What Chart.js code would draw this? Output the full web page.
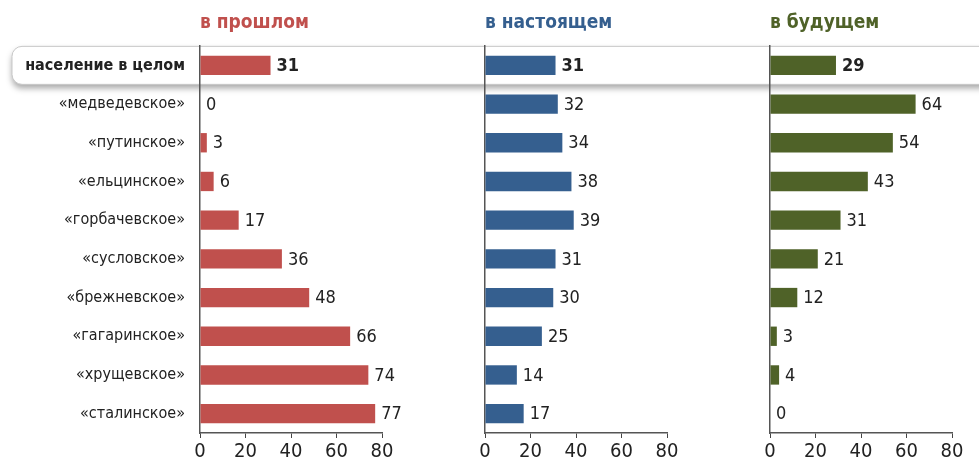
<!DOCTYPE html>
<html>
<head>
<meta charset="utf-8">
<script src="https://cdn.jsdelivr.net/npm/chart.js@4/dist/chart.umd.min.js"></script>
<style>
  body { margin: 0; background: #fff; }
  #wrap { position: relative; width: 979px; height: 463px; }
  #wrap canvas { position: absolute; left: 0; top: 0; }
</style>
</head>
<body>
<div id="wrap">
  <canvas id="past" width="979" height="463"></canvas>
  <canvas id="present" width="979" height="463"></canvas>
  <canvas id="future" width="979" height="463"></canvas>
</div>
<script>
const categories = ['население в целом', '«медведевское»', '«путинское»', '«ельцинское»', '«горбачевское»',
  '«сусловское»', '«брежневское»', '«гагаринское»', '«хрущевское»', '«сталинское»'];
const pastValues = [31, 0, 3, 6, 17, 36, 48, 66, 74, 77];
const presentValues = [31, 32, 34, 38, 39, 31, 30, 25, 14, 17];
const futureValues = [29, 64, 54, 43, 31, 21, 12, 3, 4, 0];
const xTicks = [0, 20, 40, 60, 80];

const FONT = '"DejaVu Sans Condensed", "Roboto", sans-serif';
const TXT = '#222';

// value labels + panel title
const labelsPlugin = {
  id: 'labels',
  afterDatasetsDraw(chart, args, opts) {
    const ctx = chart.ctx;
    const meta = chart.getDatasetMeta(0);
    ctx.save();
    ctx.fillStyle = TXT;
    ctx.textBaseline = 'middle';
    ctx.textAlign = 'left';
    meta.data.forEach((bar, i) => {
      ctx.font = (i === 0 ? 'bold ' : '') + '18px ' + FONT;
      ctx.fillText(chart.data.datasets[0].data[i], bar.x + 6, bar.y + 1);
    });
    ctx.font = 'bold 19px ' + FONT;
    ctx.fillStyle = opts.color;
    ctx.textBaseline = 'alphabetic';
    ctx.fillText(opts.title, chart.chartArea.left, 28);
    ctx.restore();
  }
};

// rounded highlight box behind the first row
const highlightPlugin = {
  id: 'highlight',
  beforeDraw(chart) {
    const y = chart.scales.y.getPixelForValue(0);
    const ctx = chart.ctx;
    const top = y - 19, h = 38, x = 12, w = 1000, r = 10;
    ctx.save();
    ctx.shadowColor = 'rgba(0,0,0,0.35)';
    ctx.shadowBlur = 6;
    ctx.shadowOffsetY = 4;
    ctx.fillStyle = '#fff';
    ctx.beginPath();
    ctx.roundRect(x, top, w, h, r);
    ctx.fill();
    ctx.shadowColor = 'transparent';
    ctx.strokeStyle = '#c8c8c8';
    ctx.lineWidth = 1;
    ctx.stroke();
    ctx.restore();
  }
};

function makeChart(id, values, color, title, left, showLabels) {
  const plugins = [labelsPlugin];
  if (showLabels) plugins.unshift(highlightPlugin);
  return new Chart(document.getElementById(id), {
    type: 'bar',
    data: {
      labels: categories,
      datasets: [{
        data: values,
        backgroundColor: color,
        categoryPercentage: 1,
        barPercentage: 0.5
      }]
    },
    options: {
      indexAxis: 'y',
      responsive: false,
      animation: false,
      layout: { padding: { left: showLabels ? 0 : left, right: 979 - left - 182, top: 46, bottom: 0 } },
      plugins: {
        legend: { display: false },
        tooltip: { enabled: false },
        labels: { title: title, color: color }
      },
      scales: {
        x: {
          min: 0,
          max: 80,
          afterBuildTicks: s => { s.ticks = xTicks.map(v => ({ value: v })); },
          afterFit: s => { s.height = 30; },
          grid: { drawOnChartArea: false, drawTicks: true, tickLength: 5, color: '#444' },
          border: { display: true, color: '#555', width: 1.5 },
          ticks: { color: TXT, padding: 2, font: { family: FONT, size: 20 } }
        },
        y: {
          afterFit: s => { s.width = showLabels ? left : 0; },
          grid: { display: false },
          border: { display: true, color: '#555', width: 1.5 },
          ticks: {
            display: showLabels,
            color: TXT,
            padding: 7,
            font: ctx => ({ family: FONT, size: 16, weight: ctx.index === 0 ? 'bold' : 'normal' })
          }
        }
      }
    },
    plugins: plugins
  });
}

makeChart('past', pastValues, '#c0504d', 'в прошлом', 200, true);
makeChart('present', presentValues, '#355f8f', 'в настоящем', 485, false);
makeChart('future', futureValues, '#4f6228', 'в будущем', 770, false);
</script>
</body>
</html>
